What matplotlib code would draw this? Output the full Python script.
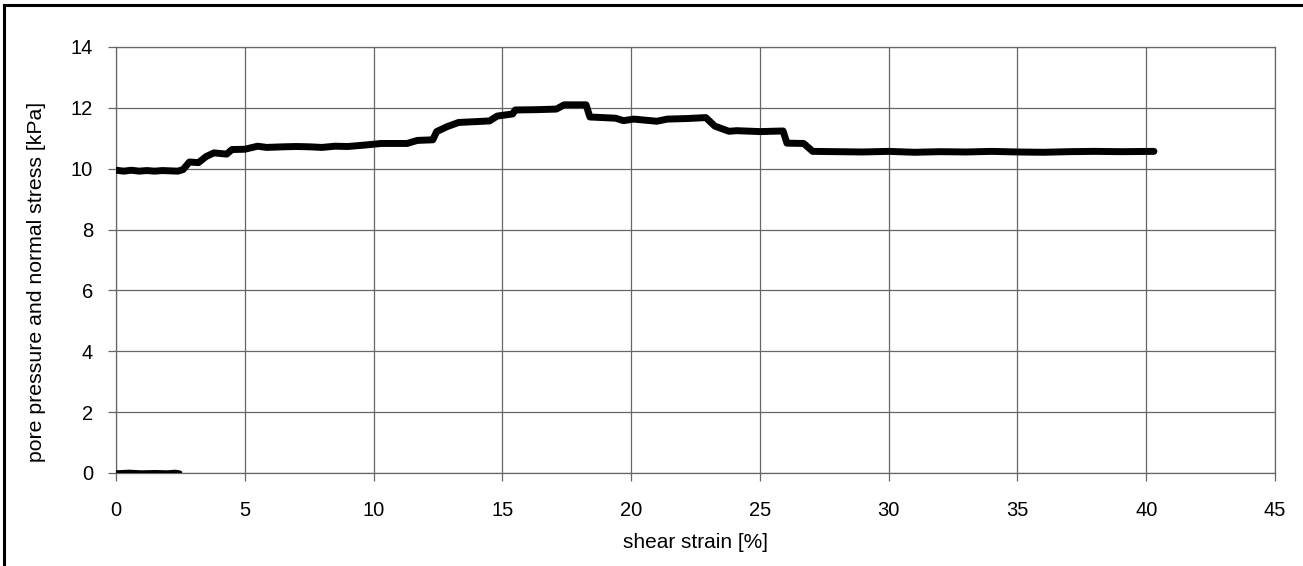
import matplotlib
matplotlib.use("Agg")
import matplotlib.pyplot as plt
from matplotlib.lines import Line2D

plt.rcParams['font.family'] = ['Liberation Sans', 'DejaVu Sans']

# Normal stress series
strain_main = [0.0, 0.3, 0.6, 0.9, 1.2, 1.5, 1.8, 2.1, 2.4, 2.6, 2.85, 3.2, 3.5, 3.8,
               4.3, 4.5, 5.0, 5.5, 5.85, 6.5, 7.0, 7.5, 8.0, 8.5, 9.0, 9.7, 10.3,
               11.3, 11.7, 12.3, 12.45, 12.85, 13.3, 14.5, 14.8, 15.4, 15.5, 16.3,
               17.1, 17.4, 18.25, 18.4, 19.4, 19.7, 20.1, 21.0, 21.4, 22.2, 22.9,
               23.25, 23.8, 24.1, 25.0, 25.9, 26.05, 26.7, 27.05, 28.0, 29.0, 30.0,
               31.0, 32.0, 33.0, 34.0, 35.0, 36.0, 37.0, 38.0, 39.0, 40.3]
stress_main = [9.95, 9.92, 9.95, 9.92, 9.94, 9.92, 9.94, 9.93, 9.92, 9.97, 10.22, 10.20,
               10.40, 10.52, 10.48, 10.63, 10.64, 10.74, 10.70, 10.72, 10.73, 10.72,
               10.70, 10.74, 10.73, 10.78, 10.83, 10.83, 10.93, 10.95, 11.22, 11.38,
               11.52, 11.57, 11.73, 11.80, 11.93, 11.94, 11.96, 12.10, 12.10, 11.70,
               11.66, 11.58, 11.63, 11.56, 11.63, 11.65, 11.68, 11.40, 11.23, 11.25,
               11.22, 11.24, 10.84, 10.83, 10.57, 10.56, 10.55, 10.57, 10.54, 10.56,
               10.55, 10.57, 10.55, 10.54, 10.56, 10.57, 10.56, 10.57]

# Pore pressure series
strain_pore = [0.0, 0.5, 1.0, 1.5, 2.0, 2.3, 2.5]
pore_pressure = [0.03, 0.05, 0.03, 0.04, 0.03, 0.05, 0.02]

x_ticks = [0, 5, 10, 15, 20, 25, 30, 35, 40, 45]
y_ticks = [0, 2, 4, 6, 8, 10, 12, 14]

W, H = 1303, 566
fig = plt.figure(figsize=(W / 100, H / 100), dpi=100)
ax = fig.add_axes([116 / W, 1 - 473 / H, (1275 - 116) / W, (473 - 47) / H])

ax.plot(strain_main, stress_main, color='black', lw=5,
        solid_joinstyle='round', solid_capstyle='round', zorder=3)
ax.plot(strain_pore, pore_pressure, color='black', lw=2.6,
        solid_joinstyle='round', solid_capstyle='round', zorder=3)

ax.set_xlim(0, 45)
ax.set_ylim(0, 14)
ax.set_xticks(x_ticks)
ax.set_yticks(y_ticks)
ax.grid(True, color='#666666', lw=0.9)
ax.set_axisbelow(True)
for s in ax.spines.values():
    s.set_color('#666666')
    s.set_linewidth(0.9)
ax.tick_params(direction='out', length=5.5, width=0.9, color='#666666',
               labelsize=14.5, labelcolor='black')
ax.tick_params(axis='x', pad=15)
ax.tick_params(axis='y', pad=11)
ax.set_xlabel('shear strain [%]', fontsize=15, labelpad=9)
ax.set_ylabel('pore pressure and normal stress [kPa]', fontsize=15.3, labelpad=18)
ax.yaxis.label.set_y(0.448)

# figure border (top and left visible)
fig.add_artist(Line2D([4 / W, 4 / W], [0, 1 - 5 / H], transform=fig.transFigure,
                      color='black', lw=2.2))
fig.add_artist(Line2D([4 / W, 1], [1 - 5 / H, 1 - 5 / H], transform=fig.transFigure,
                      color='black', lw=2.2))

fig.savefig('out.png', dpi=100)
